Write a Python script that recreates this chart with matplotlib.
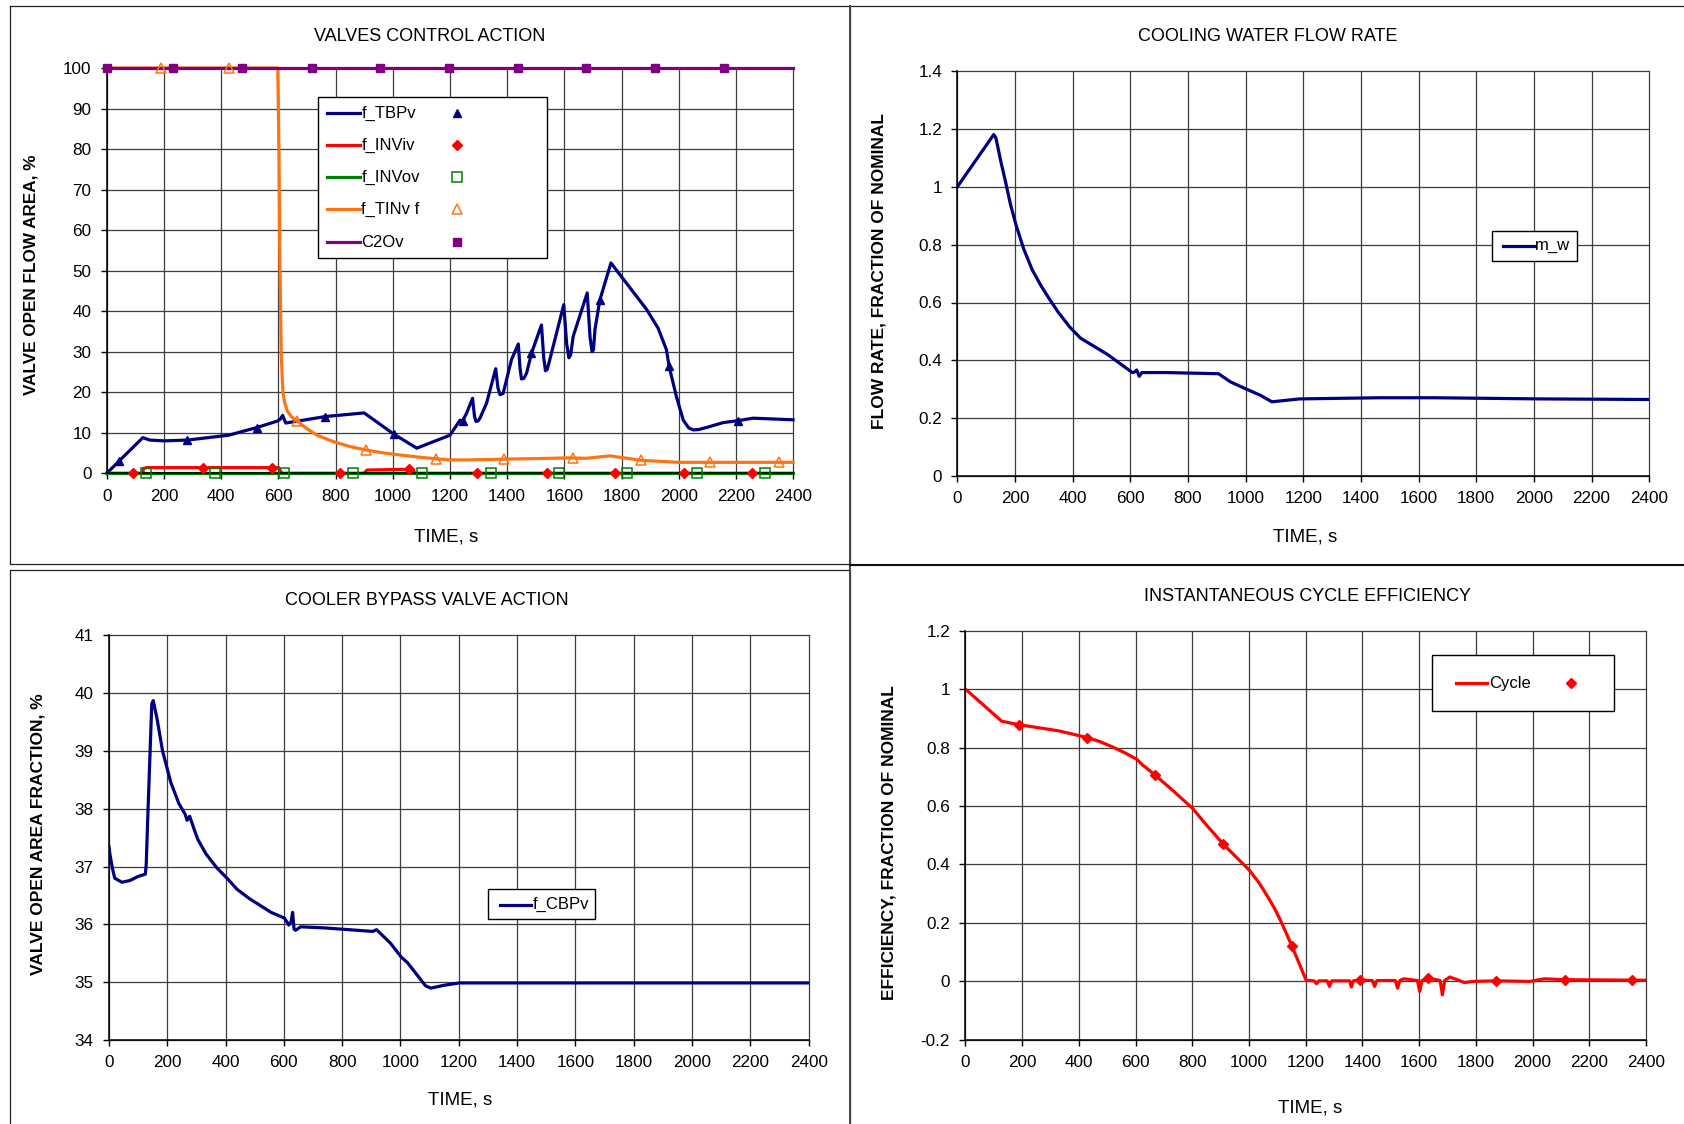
import numpy as np
import matplotlib
matplotlib.use("Agg")
import matplotlib.pyplot as plt
from matplotlib.lines import Line2D
from matplotlib.patches import Rectangle
from matplotlib.ticker import FuncFormatter

plt.rcParams['axes.unicode_minus'] = False
plt.rcParams['font.family'] = ['Liberation Sans', 'DejaVu Sans']

W, H, DPI = 1684, 1124, 100

# ---------------- data: valves control action ----------------
tbp_t = [0, 44, 126, 150, 200, 282, 426, 525, 597, 607, 615, 622, 626, 669, 764, 900,
         1003, 1084, 1200, 1235, 1244, 1258, 1279, 1286, 1291, 1298, 1305, 1328, 1360,
         1368, 1375, 1386, 1415, 1439, 1445, 1450, 1458, 1468, 1485, 1520, 1528, 1534,
         1540, 1549, 1598, 1608, 1616, 1622, 1631, 1680, 1690, 1697, 1702, 1707, 1724,
         1763, 1888, 1928, 1957, 1966, 1992, 2016, 2035, 2051, 2070, 2097, 2155, 2208,
         2260, 2400]
tbp_y = [0, 3.1, 8.8, 8.2, 8.0, 8.2, 9.4, 11.3, 12.9, 13.4, 14.3, 13.0, 12.4, 12.9, 14.0,
         14.9, 9.7, 6.2, 9.4, 13.1, 12.9, 14.8, 18.5, 14.0, 12.8, 12.9, 13.6, 17.3, 25.8,
         21.0, 19.4, 19.7, 28.0, 31.9, 26.0, 23.3, 23.4, 24.7, 29.6, 36.6, 28.5, 25.3,
         25.6, 28.0, 41.6, 32.0, 28.5, 29.2, 33.8, 44.5, 33.5, 30.0, 30.5, 35.4, 42.7,
         51.9, 40.4, 35.8, 30.5, 26.5, 18.9, 13.1, 11.2, 10.7, 10.8, 11.3, 12.5, 13.0,
         13.6, 13.2]
tbp_mark_t = [44, 282, 525, 764, 1003, 1244, 1485, 1724, 1966, 2208]

inv_i_t = [0, 126, 128, 140, 601, 612, 899, 910, 1056, 1068, 1078, 2400]
inv_i_y = [0, 0, 1.2, 1.4, 1.4, 0, 0, 0.8, 1.0, 1.0, 0, 0]
inv_i_mark_t = [93, 336, 578, 817, 1058, 1295, 1538, 1778, 2017, 2257]

inv_o_t = [0, 2400]
inv_o_y = [0, 0]
inv_o_mark_t = [138, 379, 620, 862, 1103, 1342, 1581, 1820, 2063, 2301]

tin_t = [0, 598, 602, 605, 610, 616, 622, 631, 645, 665, 700, 735, 793, 850, 910, 970,
         1027, 1090, 1149, 1200, 1260, 1398, 1552, 1608, 1677, 1759, 1870, 2000, 2400]
tin_y = [100, 100, 80, 54, 29, 20, 17.5, 15.4, 14.0, 12.9, 11.0, 9.4, 7.8, 6.6, 5.7, 5.0,
         4.5, 4.0, 3.6, 3.3, 3.3, 3.5, 3.7, 3.8, 3.7, 4.3, 3.2, 2.7, 2.7]
tin_mark_t = [190, 428, 665, 908, 1151, 1390, 1629, 1869, 2109, 2350]

c2o_t = [0, 2400]
c2o_y = [100, 100]
c2o_mark_t = [0, 233, 474, 717, 954, 1198, 1439, 1677, 1917, 2160]

# ---------------- data: cooling water flow rate ----------------
mw_t = [0, 126, 133, 139, 150, 167, 185, 204, 230, 260, 290, 316, 350, 390, 427, 520,
        607, 615, 622, 631, 640, 724, 906, 947, 1002, 1050, 1091, 1188, 1466, 1652, 2023,
        2400]
mw_y = [1.0, 1.18, 1.17, 1.143, 1.09, 1.017, 0.935, 0.866, 0.785, 0.712, 0.658, 0.617,
        0.566, 0.515, 0.477, 0.421, 0.358, 0.36, 0.367, 0.345, 0.358, 0.358, 0.354, 0.326,
        0.301, 0.280, 0.257, 0.267, 0.271, 0.271, 0.267, 0.265]

# ---------------- data: cooler bypass valve ----------------
cbp_t = [0, 4, 13, 20, 45, 72, 100, 125, 128, 133, 138, 147, 152, 165, 184, 212, 240,
         262, 268, 277, 292, 305, 333, 370, 407, 439, 481, 556, 602, 617, 625, 630, 635,
         640, 658, 742, 905, 918, 965, 1002, 1024, 1086, 1104, 1150, 1203, 2400]
cbp_y = [37.35, 37.2, 36.95, 36.8, 36.73, 36.76, 36.83, 36.87, 37.04, 37.8, 38.52, 39.81,
         39.87, 39.56, 39.0, 38.46, 38.09, 37.9, 37.8, 37.87, 37.65, 37.47, 37.22, 36.98,
         36.79, 36.61, 36.45, 36.21, 36.11, 35.99, 36.05, 36.21, 35.92, 35.90, 35.96,
         35.94, 35.88, 35.91, 35.68, 35.44, 35.34, 34.94, 34.90, 34.95, 34.99, 34.99]

# ---------------- data: instantaneous cycle efficiency ----------------
cyc_t = [0, 128, 189, 330, 430, 475, 519, 560, 604, 620, 626, 632, 670, 735, 802, 850,
         909, 955, 1000, 1035, 1066, 1090, 1113, 1151, 1202, 1230, 1238, 1246, 1276,
         1284, 1292, 1355, 1361, 1368, 1392, 1435, 1443, 1451, 1516, 1524, 1532, 1546,
         1594, 1602, 1610, 1631, 1674, 1682, 1690, 1708, 1740, 1759, 1790, 1870, 1990,
         2041, 2113, 2400]
cyc_y = [1.0, 0.89, 0.878, 0.857, 0.834, 0.820, 0.802, 0.783, 0.760, 0.745, 0.739, 0.735,
         0.705, 0.650, 0.591, 0.535, 0.470, 0.425, 0.382, 0.338, 0.290, 0.250, 0.205,
         0.122, 0.003, 0.002, -0.008, 0.002, 0.002, -0.017, 0.002, 0.002, -0.019, 0.002,
         0.005, 0.003, -0.017, 0.003, 0.003, -0.023, 0.003, 0.009, 0.003, -0.034, 0.003,
         0.012, 0.003, -0.046, 0.003, 0.015, 0.004, -0.004, 0.0, 0.002, 0.0, 0.009,
         0.006, 0.004]
cyc_mark_t = [189, 430, 670, 909, 1151, 1392, 1631, 1870, 2113, 2349]

time_ticks = list(range(0, 2401, 200))

NAVY, RED, GREEN, ORANGE, PURPLE = '#000080', '#FF0000', '#008000', '#FF7410', '#800080'
LW = 2.3
TICK_FS = 12.3
TITLE_FS = 13.0
XLABEL_FS = 13.5

fig = plt.figure(figsize=(W / DPI, H / DPI), dpi=DPI)


def fx(x):
    return x / W


def fy(y):
    return 1 - y / H


def axes_px(x0, x1, y_top, y_bot):
    return fig.add_axes([fx(x0), fy(y_bot), (x1 - x0) / W, (y_bot - y_top) / H])


def style(ax, ylim, yticks):
    ax.set_xlim(0, 2400)
    ax.set_ylim(*ylim)
    ax.set_xticks(time_ticks)
    ax.set_yticks(yticks)
    ax.yaxis.set_major_formatter(FuncFormatter(lambda v, p: f"{v:g}"))
    ax.grid(True, color='#3c3c3c', lw=0.9, zorder=0)
    ax.set_axisbelow(True)
    for gl in ax.get_xgridlines() + ax.get_ygridlines():
        gl.set_clip_on(False)
    ax.spines['top'].set_visible(False)
    ax.spines['right'].set_visible(False)
    for s in ('left', 'bottom'):
        ax.spines[s].set_color('black')
        ax.spines[s].set_linewidth(1.1)
    ax.tick_params(direction='out', length=4, width=1, pad=7, labelsize=TICK_FS,
                   colors='black')


def legend_box(ax, x0, x1, y0, y1):
    ax.add_patch(Rectangle((x0, y0), x1 - x0, y1 - y0, transform=ax.transAxes,
                           facecolor='white', edgecolor='black', lw=1.0, zorder=6,
                           clip_on=False))


def legend_row(ax, y, lx0, lx1, tx, label, color, mx=None, mkw=None):
    ax.add_line(Line2D([lx0, lx1], [y, y], transform=ax.transAxes, color=color, lw=LW,
                       zorder=7, clip_on=False))
    ax.text(tx, y, label, transform=ax.transAxes, fontsize=12, va='center', ha='left',
            zorder=7)
    if mx is not None:
        ax.add_line(Line2D([mx], [y], transform=ax.transAxes, linestyle='none',
                           zorder=7, clip_on=False, **mkw))


def panel_text(x, y, s, **kw):
    fig.text(fx(x), fy(y), s, ha='center', va='center', **kw)


# ---------------- panel frames ----------------
def fline(xs, ys, **kw):
    fig.add_artist(Line2D([fx(v) for v in xs], [fy(v) for v in ys],
                          transform=fig.transFigure, **kw))

frame_kw = dict(color='#222222', lw=0.9)
fline([9.5, 849.5, 849.5, 9.5, 9.5], [5.5, 5.5, 564, 564, 5.5], **frame_kw)
fline([9.5, 9.5, 849.5, 849.5], [1130, 569.5, 569.5, 1130], **frame_kw)
fline([849.5, 1690], [5.5, 5.5], **frame_kw)
fline([849.5, 849.5], [5.5, 1130], color='#444444', lw=1.4)
fline([849.5, 1690], [565, 565], color='#111111', lw=1.5)

# ---------------- valves control action ----------------
ax1 = axes_px(106.8, 793.1, 68.0, 473.3)
style(ax1, (0, 100), range(0, 101, 10))
series1 = [
    (tbp_t, tbp_y, tbp_mark_t, NAVY, dict(marker='^', markersize=5.5, color=NAVY,
                                          markeredgecolor=NAVY), 'f_TBPv'),
    (inv_i_t, inv_i_y, inv_i_mark_t, RED, dict(marker='D', markersize=5.0, color=RED,
                                               markeredgecolor=RED), 'f_INViv'),
    (inv_o_t, inv_o_y, inv_o_mark_t, GREEN, dict(marker='s', markersize=6.5,
                                                 markerfacecolor='none',
                                                 markeredgecolor=GREEN,
                                                 markeredgewidth=1.1), 'f_INVov'),
    (tin_t, tin_y, tin_mark_t, ORANGE, dict(marker='^', markersize=7,
                                            markerfacecolor='none',
                                            markeredgecolor=ORANGE,
                                            markeredgewidth=1.1), 'f_TINv f'),
    (c2o_t, c2o_y, c2o_mark_t, PURPLE, dict(marker='s', markersize=5.5, color=PURPLE,
                                            markeredgecolor=PURPLE), 'C2Ov'),
]
for i, (t, y, mt, c, mkw, lab) in enumerate(series1):
    ax1.plot(t, y, color=c, lw=LW, zorder=2 + i * 0.01, clip_on=False,
             solid_joinstyle='round')
for i, (t, y, mt, c, mkw, lab) in enumerate(series1):
    ax1.plot(mt, np.interp(mt, t, y), linestyle='none', zorder=3 + i * 0.01,
             clip_on=False, **mkw)

legend_box(ax1, 0.3073, 0.641, 0.532, 0.929)
for (t, y, mt, c, mkw, lab), ry in zip(series1, [0.888, 0.810, 0.730, 0.651, 0.570]):
    legend_row(ax1, ry, 0.3204, 0.3689, 0.371, lab, c, 0.5107, mkw)

panel_text(429.5, 36.3, 'VALVES CONTROL ACTION', fontsize=TITLE_FS)
panel_text(446.5, 537.3, 'TIME, s', fontsize=XLABEL_FS)
panel_text(31.0, 275.0, 'VALVE OPEN FLOW AREA, %', fontsize=12.3, fontweight='bold',
           rotation=90)

# ---------------- cooling water flow rate ----------------
ax2 = axes_px(957.4, 1649.2, 70.9, 476.2)
style(ax2, (0, 1.4), np.round(np.arange(0, 1.41, 0.2), 1))
ax2.plot(mw_t, mw_y, color=NAVY, lw=LW, zorder=2, solid_joinstyle='round')
legend_box(ax2, 0.7733, 0.8956, 0.531, 0.6055)
legend_row(ax2, 0.568, 0.788, 0.835, 0.835, 'm_w', NAVY)

panel_text(1267.5, 36.3, 'COOLING WATER FLOW RATE', fontsize=TITLE_FS)
panel_text(1305.5, 537.3, 'TIME, s', fontsize=XLABEL_FS)
panel_text(879.0, 271.0, 'FLOW RATE, FRACTION OF NOMINAL', fontsize=12.5,
           fontweight='bold', rotation=90)

# ---------------- cooler bypass valve action ----------------
ax3 = axes_px(108.9, 808.7, 635.2, 1040.2)
style(ax3, (34, 41), range(34, 42))
ax3.plot(cbp_t, cbp_y, color=NAVY, lw=LW, zorder=2, solid_joinstyle='round')
legend_box(ax3, 0.5415, 0.6941, 0.2993, 0.3723)
legend_row(ax3, 0.335, 0.5585, 0.6035, 0.6057, 'f_CBPv', NAVY)

panel_text(426.5, 600.6, 'COOLER BYPASS VALVE ACTION', fontsize=TITLE_FS)
panel_text(460.5, 1099.8, 'TIME, s', fontsize=XLABEL_FS)
panel_text(38.0, 834.6, 'VALVE OPEN AREA FRACTION, %', fontsize=12.5,
           fontweight='bold', rotation=90)

# ---------------- instantaneous cycle efficiency ----------------
ax4 = axes_px(965.4, 1646.0, 630.6, 1039.9)
style(ax4, (-0.2, 1.2), np.round(np.arange(-0.2, 1.21, 0.2), 1))
cyc_mkw = dict(marker='D', markersize=5.0, color=RED, markeredgecolor=RED)
ax4.plot(cyc_t, cyc_y, color=RED, lw=LW, zorder=2, solid_joinstyle='round')
ax4.plot(cyc_mark_t, np.interp(cyc_mark_t, cyc_t, cyc_y), linestyle='none', zorder=3,
         **cyc_mkw)
legend_box(ax4, 0.6856, 0.9528, 0.8031, 0.9409)
legend_row(ax4, 0.871, 0.7208, 0.7664, 0.7689, 'Cycle', RED, 0.8898, cyc_mkw)

panel_text(1308.0, 596.4, 'INSTANTANEOUS CYCLE EFFICIENCY', fontsize=TITLE_FS)
panel_text(1310.5, 1107.6, 'TIME, s', fontsize=XLABEL_FS)
panel_text(889.0, 842.5, 'EFFICIENCY, FRACTION OF NOMINAL', fontsize=12.5,
           fontweight='bold', rotation=90)

fig.savefig('out.png', dpi=DPI, facecolor='white')
